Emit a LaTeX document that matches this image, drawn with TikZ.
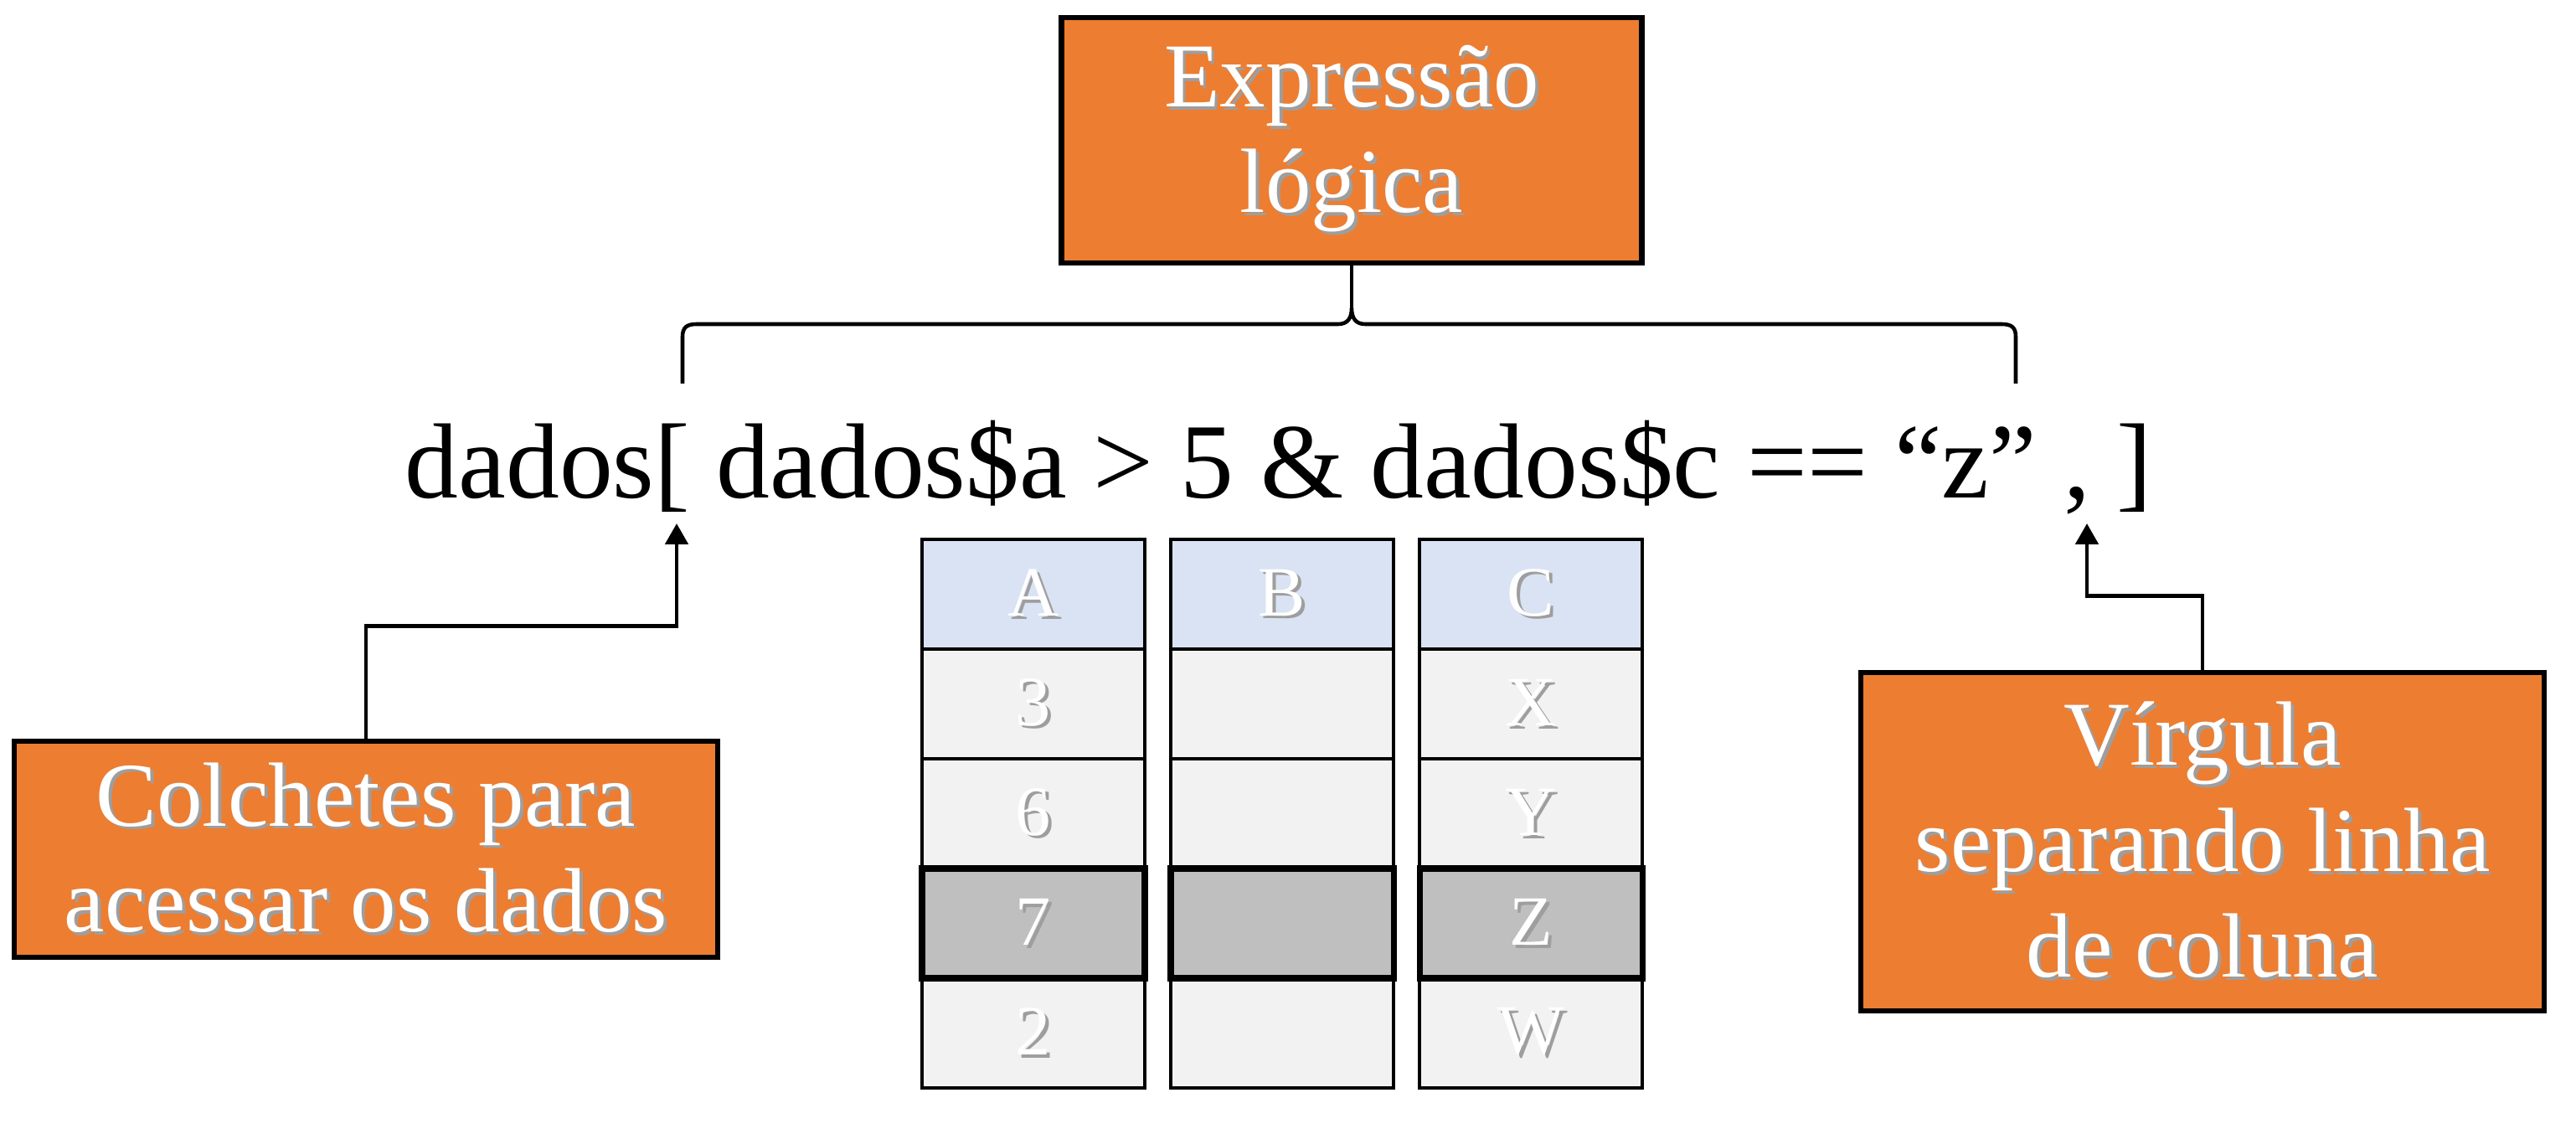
\documentclass[tikz,border=0pt]{standalone}
\usepackage{fontspec}
\setmainfont{Liberation Serif}
\usetikzlibrary{positioning,arrows.meta}
\definecolor{boxorange}{HTML}{ED7D31}
\definecolor{headblue}{HTML}{DAE3F3}
\definecolor{cellgray}{HTML}{F2F2F2}
\definecolor{pickgray}{HTML}{BFBFBF}
\newcommand{\shtxt}[1]{\rlap{\kern1.1pt\raisebox{-1.1pt}{\color{black!38}#1}}#1}
\tikzset{
  orange box/.style={
    fill=boxorange,
    draw=black,
    line width=1.8pt,
    text=white,
    align=center,
    inner sep=0pt,
    font=\fontsize{31}{36}\selectfont,
    minimum width={#1},
  },
  table cell/.style={
    fill=cellgray,
    draw=black,
    line width=1.1pt,
    text=white,
    outer sep=0pt,
    minimum width=2.66cm,
    minimum height=1.31cm,
    font=\fontsize{24}{28}\selectfont,
  },
  head cell/.style={table cell, fill=headblue},
  picked cell/.style={table cell, fill=pickgray},
  picked line/.style={draw=black, line width=2pt},
  pointer/.style={
    draw=black,
    line width=1.4pt,
    -{Triangle[length=0.25cm,width=0.27cm]},
  },
  brace line/.style={draw=black, line width=1.3pt},
}
\begin{document}
\begin{tikzpicture}
    \useasboundingbox (0,0) rectangle (30.76,13.54);

    \node [orange box=6.93cm, minimum height=2.93cm] (logica) at (16.14,11.865)
        {\shtxt{Expressão}\\\shtxt{lógica}};
    \node [font=\fontsize{36.3}{40}\selectfont, anchor=base] (codigo) at (15.27,7.59)
        {dados[ dados\$a > 5 \& dados\$c == “z” , ]};
    \node [orange box=8.40cm, minimum height=2.58cm] (colchetes) at (4.37,3.40)
        {\shtxt{Colchetes para}\\\shtxt{acessar os dados}};
    \node [orange box=8.16cm, minimum height=4.04cm] (virgula) at (26.30,3.49)
        {\shtxt{Vírgula}\\\shtxt{separando linha}\\\shtxt{de coluna}};

    % brace over the logical expression
    \draw [brace line] (8.15,8.96) -- (8.15,9.52)
        .. controls (8.15,9.63) and (8.20,9.67) .. (8.32,9.67) -- (15.98,9.67)
        .. controls (16.09,9.67) and (16.14,9.74) .. (16.14,9.86)
        .. controls (16.14,9.74) and (16.19,9.67) .. (16.30,9.67) -- (23.90,9.67)
        .. controls (24.02,9.67) and (24.07,9.63) .. (24.07,9.52) -- (24.07,8.96);
    \draw [brace line] (16.14,9.86) -- (logica.south);

    % data frame
    \node [head cell] (a0) at (12.34,6.445) {\shtxt{A}};
    \node [head cell, right=0.31cm of a0] (b0) {\shtxt{B}};
    \node [head cell, right=0.31cm of b0] (c0) {\shtxt{C}};
    \node [table cell, below=0pt of a0] (a1) {\shtxt{3}};
    \node [table cell, below=0pt of a1] (a2) {\shtxt{6}};
    \node [picked cell, below=0pt of a2] (a3) {\shtxt{7}};
    \node [table cell, below=0pt of a3] (a4) {\shtxt{2}};
    \node [table cell, below=0pt of b0] (b1) {};
    \node [table cell, below=0pt of b1] (b2) {};
    \node [picked cell, below=0pt of b2] (b3) {};
    \node [table cell, below=0pt of b3] (b4) {};
    \node [table cell, below=0pt of c0] (c1) {\shtxt{X}};
    \node [table cell, below=0pt of c1] (c2) {\shtxt{Y}};
    \node [picked cell, below=0pt of c2] (c3) {\shtxt{Z}};
    \node [table cell, below=0pt of c3] (c4) {\shtxt{W}};
    \draw [picked line] (a3.south west) rectangle (a3.north east);
    \draw [picked line] (b3.south west) rectangle (b3.north east);
    \draw [picked line] (c3.south west) rectangle (c3.north east);

    % pointers
    \coordinate (bracket) at (8.08,7.29);
    \coordinate (comma) at (24.92,7.29);
    \draw [pointer] (colchetes.north) -- ++(0,1.34) -| (bracket);
    \draw [pointer] (virgula.north) -- ++(0,0.88) -| (comma);
\end{tikzpicture}
\end{document}
